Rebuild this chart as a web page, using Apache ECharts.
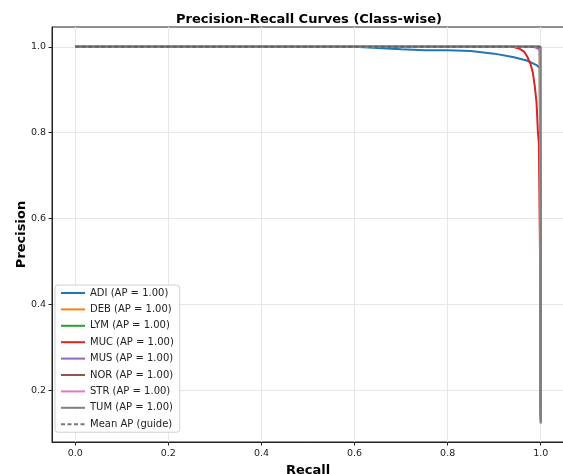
<!DOCTYPE html>
<html>
<head>
<meta charset="utf-8">
<script src="https://cdn.jsdelivr.net/npm/echarts@6/dist/echarts.min.js"></script>
<style>
  html, body { margin: 0; padding: 0; background: #fff; }
  #main { width: 563px; height: 474px; }
</style>
</head>
<body>
<div id="main"></div>
<script>
// class names and colours (tab10)
var classNames = ['ADI', 'DEB', 'LYM', 'MUC', 'MUS', 'NOR', 'STR', 'TUM'];
var classColors = ['#1f77b4', '#ff7f0e', '#2ca02c', '#d62728', '#9467bd', '#8c564b', '#e377c2', '#7f7f7f'];
var classAP = [1.00, 1.00, 1.00, 1.00, 1.00, 1.00, 1.00, 1.00];

// recall / precision
var adiRecall    = [0, 0.6, 0.65, 0.7, 0.75, 0.8, 0.85, 0.9, 0.94, 0.97, 0.99, 0.998, 1.0];
var adiPrecision = [1, 1, 0.997, 0.994, 0.992, 0.992, 0.99, 0.984, 0.976, 0.968, 0.958, 0.951, 0.14];
var debRecall    = [0, 0.998, 1.0, 1.0];
var debPrecision = [1, 1, 1, 0.15];
var lymRecall    = [0, 0.998, 1.0, 1.0];
var lymPrecision = [1, 1, 1, 0.16];
var mucRecall    = [0, 0.94, 0.955, 0.965, 0.972, 0.978, 0.983, 0.987, 0.991, 0.994, 0.996, 0.999, 1.0];
var mucPrecision = [1, 1, 0.995, 0.988, 0.975, 0.96, 0.94, 0.91, 0.87, 0.8, 0.777, 0.46, 0.13];
var musRecall    = [0, 0.985, 0.995, 0.999, 1.0];
var musPrecision = [1, 1, 0.995, 0.99, 0.14];
var norRecall    = [0, 0.998, 1.0, 1.0];
var norPrecision = [1, 1, 1, 0.13];
var strRecall    = [0, 0.998, 1.0, 1.0];
var strPrecision = [1, 1, 1, 0.125];
var tumRecall    = [0, 1.0, 1.0];
var tumPrecision = [1, 1, 0.123];
var meanRecall    = [0, 1.0];
var meanPrecision = [1.0, 1.0];

var recalls = [adiRecall, debRecall, lymRecall, mucRecall, musRecall, norRecall, strRecall, tumRecall];
var precisions = [adiPrecision, debPrecision, lymPrecision, mucPrecision, musPrecision, norPrecision, strPrecision, tumPrecision];

var xTicks = [0.0, 0.2, 0.4, 0.6, 0.8, 1.0];
var yTicks = [0.2, 0.4, 0.6, 0.8, 1.0];

function pairs(xs, ys) {
  var out = [];
  for (var i = 0; i < xs.length; i++) out.push([xs[i], ys[i]]);
  return out;
}

var font = 'DejaVu Sans';
var series = [];
var legendNames = [];
for (var i = 0; i < classNames.length; i++) {
  var nm = classNames[i] + ' (AP = ' + classAP[i].toFixed(2) + ')';
  legendNames.push(nm);
  series.push({
    name: nm,
    type: 'line',
    data: pairs(recalls[i], precisions[i]),
    symbol: 'none',
    color: classColors[i],
    lineStyle: { width: 2, color: classColors[i] },
    silent: true
  });
}
legendNames.push('Mean AP (guide)');
series.push({
  name: 'Mean AP (guide)',
  type: 'line',
  data: pairs(meanRecall, meanPrecision),
  symbol: 'none',
  color: '#555',
  lineStyle: { width: 1.5, type: [4, 2.5], color: '#555', opacity: 0.8 },
  silent: true
});

var myChart = echarts.init(document.getElementById('main'));
var option = {
  animation: false,
  backgroundColor: '#fff',
  title: {
    text: 'Precision–Recall Curves (Class-wise)',
    left: 304, top: 8, textAlign: 'center',
    textStyle: { fontFamily: font, fontSize: 13, fontWeight: 'bold', color: '#000' }
  },
  grid: {
    left: 52, top: 27, width: 512, height: 415,
    outerBoundsMode: 'none',
    show: true, borderColor: '#222', borderWidth: 1
  },
  legend: {
    data: legendNames,
    orient: 'vertical',
    left: 55, top: 285,
    itemWidth: 24, itemHeight: 10, itemGap: 6.4,
    padding: [3, 6, 3, 5],
    backgroundColor: 'rgba(255,255,255,0.85)',
    borderColor: '#d0d0d0', borderWidth: 1, borderRadius: 3,
    itemStyle: { opacity: 0 },
    textStyle: { fontFamily: font, fontSize: 10, color: '#222' },
    selectedMode: false
  },
  xAxis: {
    type: 'value', min: -0.05, max: 1.05,
    name: 'Recall', nameLocation: 'middle', nameGap: 22, nameMoveOverlap: false,
    nameTextStyle: { fontFamily: font, fontSize: 13, fontWeight: 'bold', color: '#000' },
    axisLine: { show: true, onZero: false, lineStyle: { color: '#222', width: 1 } },
    axisTick: { show: true, length: 3.5, lineStyle: { color: '#222' }, customValues: xTicks },
    axisLabel: { fontFamily: font, fontSize: 9.5, color: '#222', margin: 7, customValues: xTicks,
      formatter: function (v) { return v.toFixed(1); } },
    splitLine: { show: true, lineStyle: { color: '#e6e6e6', width: 1 } }
  },
  yAxis: {
    type: 'value', min: 0.08, max: 1.046,
    name: 'Precision', nameLocation: 'middle', nameGap: 24, nameMoveOverlap: false,
    nameTextStyle: { fontFamily: font, fontSize: 13, fontWeight: 'bold', color: '#000' },
    axisLine: { show: true, onZero: false, lineStyle: { color: '#222', width: 1 } },
    axisTick: { show: true, length: 3.5, lineStyle: { color: '#222' }, customValues: yTicks },
    axisLabel: { fontFamily: font, fontSize: 9.5, color: '#222', margin: 6, customValues: yTicks,
      formatter: function (v) { return v.toFixed(1); } },
    splitLine: { show: true, lineStyle: { color: '#e6e6e6', width: 1 } }
  },
  series: series
};
myChart.setOption(option);
</script>
</body>
</html>
